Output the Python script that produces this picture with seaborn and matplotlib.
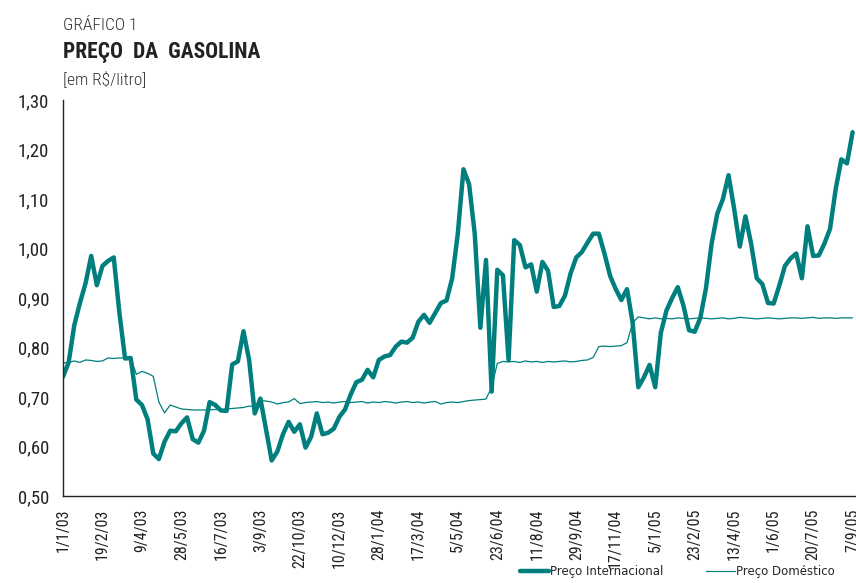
import numpy as np
import pandas as pd
import matplotlib
matplotlib.use("Agg")
import matplotlib.pyplot as plt
from matplotlib.lines import Line2D
import seaborn as sns

# weekly prices, R$/litro, starting 1/1/03
intl = [
    0.741, 0.770, 0.845, 0.890, 0.930, 0.985, 0.926, 0.965, 0.975, 0.982,
    0.870, 0.778, 0.779, 0.695, 0.684, 0.655, 0.586, 0.575, 0.610, 0.632,
    0.631, 0.647, 0.659, 0.615, 0.608, 0.632, 0.690, 0.684, 0.673, 0.672,
    0.766, 0.772, 0.833, 0.775, 0.667, 0.697, 0.635, 0.572, 0.590, 0.625,
    0.650, 0.630, 0.645, 0.598, 0.620, 0.667, 0.625, 0.628, 0.636, 0.660,
    0.675, 0.705, 0.730, 0.735, 0.755, 0.740, 0.775, 0.782, 0.785, 0.802,
    0.812, 0.810, 0.820, 0.852, 0.866, 0.850, 0.870, 0.890, 0.895, 0.940,
    1.030, 1.160, 1.130, 1.030, 0.840, 0.977, 0.711, 0.957, 0.946, 0.775,
    1.017, 1.007, 0.962, 0.968, 0.913, 0.973, 0.955, 0.882, 0.884, 0.905,
    0.950, 0.982, 0.993, 1.012, 1.030, 1.030, 0.990, 0.945, 0.918, 0.896,
    0.918, 0.850, 0.720, 0.740, 0.765, 0.720, 0.830, 0.875, 0.900, 0.922,
    0.885, 0.835, 0.832, 0.860, 0.920, 1.010, 1.070, 1.100, 1.148, 1.080,
    1.004, 1.065, 1.010, 0.940, 0.928, 0.890, 0.889, 0.925, 0.965, 0.980,
    0.990, 0.940, 1.045, 0.985, 0.986, 1.010, 1.040, 1.120, 1.180, 1.172,
    1.235,
]
dom = [
    0.769, 0.770, 0.773, 0.770, 0.775, 0.774, 0.772, 0.773, 0.779, 0.778,
    0.779, 0.779, 0.780, 0.746, 0.752, 0.748, 0.742, 0.690, 0.668, 0.684,
    0.680, 0.676, 0.675, 0.674, 0.674, 0.674, 0.674, 0.675, 0.674, 0.676,
    0.677, 0.678, 0.679, 0.682, 0.680, 0.693, 0.692, 0.690, 0.686, 0.689,
    0.690, 0.697, 0.687, 0.689, 0.690, 0.691, 0.689, 0.690, 0.688, 0.690,
    0.691, 0.689, 0.690, 0.691, 0.688, 0.690, 0.689, 0.691, 0.690, 0.688,
    0.690, 0.691, 0.689, 0.690, 0.688, 0.690, 0.691, 0.686, 0.689, 0.690,
    0.689, 0.691, 0.693, 0.694, 0.695, 0.696, 0.720, 0.768, 0.772, 0.771,
    0.772, 0.770, 0.773, 0.771, 0.772, 0.770, 0.772, 0.771, 0.772, 0.773,
    0.771, 0.772, 0.774, 0.775, 0.780, 0.802, 0.803, 0.802, 0.803, 0.804,
    0.810, 0.850, 0.862, 0.860, 0.858, 0.860, 0.858, 0.859, 0.858, 0.860,
    0.859, 0.858, 0.859, 0.860, 0.859, 0.858, 0.859, 0.860, 0.858, 0.859,
    0.861, 0.860, 0.859, 0.858, 0.859, 0.860, 0.859, 0.858, 0.859, 0.860,
    0.860, 0.859, 0.860, 0.861, 0.859, 0.860, 0.860, 0.859, 0.860, 0.860,
    0.860,
]
date_labels = ["1/1/03", "19/2/03", "9/4/03", "28/5/03", "16/7/03", "3/9/03",
               "22/10/03", "10/12/03", "28/1/04", "17/3/04", "5/5/04", "23/6/04",
               "11/8/04", "29/9/04", "17/11/04", "5/1/05", "23/2/05", "13/4/05",
               "1/6/05", "20/7/05", "7/9/05"]
y_ticks = [0.5, 0.6, 0.7, 0.8, 0.9, 1.0, 1.1, 1.2, 1.3]

TEAL = "#007f7e"
COND = ["Roboto Condensed", "PT Sans Narrow", "DejaVu Sans"]

df = pd.DataFrame({"semana": np.arange(len(intl)), "intl": intl, "dom": dom})

sns.set_style("white")
plt.rcParams["font.family"] = COND

fig = plt.figure(figsize=(8.56, 5.83), dpi=100)
ax = fig.add_axes([0.0736, 0.149, 0.9264, 0.6795])

sns.lineplot(data=df, x="semana", y="intl", color=TEAL, linewidth=3.2, ax=ax,
             solid_joinstyle="round")
sns.lineplot(data=df, x="semana", y="dom", color=TEAL, linewidth=0.9, ax=ax,
             solid_joinstyle="round")

ax.set_xlim(0, 140.6)
ax.set_ylim(0.5, 1.3)
ax.set_xlabel("")
ax.set_ylabel("")
for s in ["top", "right"]:
    ax.spines[s].set_visible(False)
for s in ["left", "bottom"]:
    ax.spines[s].set_color("#222222")
    ax.spines[s].set_linewidth(1.0)

ax.set_yticks(y_ticks)
ax.set_yticklabels([f"{v:.2f}".replace(".", ",") for v in y_ticks], fontsize=13.5,
                   color="#222222")
ax.tick_params(axis="y", direction="inout", length=10, width=1.0, color="#222222", pad=5)

ax.set_xticks(np.arange(0, 141, 7))
ax.set_xticklabels(date_labels, rotation=90, fontsize=11.5, va="top", color="#222222")
ax.set_xticks(np.arange(0, 141, 1), minor=True)
ax.tick_params(axis="x", which="both", direction="inout", length=6, width=1.0,
               color="#222222", pad=6)

fig.text(0.0736, 1 - 30 / 583, "GRÁFICO 1", fontsize=12.5, color="#333333",
         va="baseline", fontweight="light")
fig.text(0.0736, 1 - 58 / 583, "PREÇO  DA  GASOLINA", fontsize=15.5, fontweight="bold",
         color="#222222", va="baseline")
fig.text(0.0736, 1 - 85 / 583, "[em R$/litro]", fontsize=12.5, color="#333333",
         va="baseline", fontweight="light")

handles = [Line2D([], [], color=TEAL, linewidth=3.2),
           Line2D([], [], color=TEAL, linewidth=0.9)]
fig.legend(handles, ["Preço Internacional", "Preço Doméstico"], loc="lower right",
           bbox_to_anchor=(0.988, -0.010), ncol=2, frameon=False,
           handlelength=2.4, handletextpad=0.15, columnspacing=3.6,
           prop={"family": "DejaVu Sans", "size": 8.5})

plt.savefig("out.png", dpi=100, facecolor="white")
plt.close()
